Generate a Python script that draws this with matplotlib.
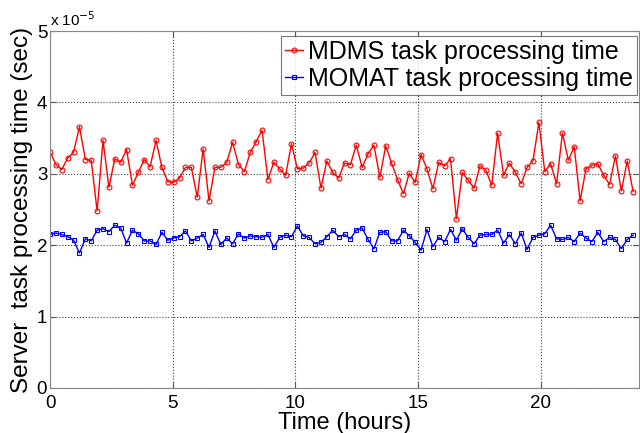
import numpy as np
import matplotlib
matplotlib.use("Agg")
import matplotlib.pyplot as plt

plt.rcParams['font.family'] = ['Liberation Sans', 'DejaVu Sans']

# sample times (hours), 0.24 h apart
time_hours = np.arange(100) * 0.24

# values in units of 1e-5 sec
mdms = [3.31, 3.13, 3.06, 3.22, 3.30, 3.66, 3.20, 3.19, 2.48, 3.47, 2.81, 3.21,
        3.16, 3.34, 2.84, 3.02, 3.20, 3.10, 3.47, 3.09, 2.89, 2.88, 2.94, 3.09,
        3.09, 2.67, 3.35, 2.62, 3.09, 3.09, 3.16, 3.44, 3.13, 3.03, 3.30, 3.45,
        3.61, 2.92, 3.16, 3.07, 2.98, 3.42, 3.07, 3.08, 3.15, 3.30, 2.80, 3.18,
        3.02, 2.94, 3.15, 3.13, 3.40, 3.09, 3.28, 3.40, 2.95, 3.39, 3.15, 2.92,
        2.72, 3.01, 2.88, 3.27, 3.07, 2.79, 3.16, 3.11, 3.21, 2.37, 3.02, 2.91,
        2.80, 3.11, 3.05, 2.84, 3.57, 2.98, 3.15, 3.02, 2.86, 3.09, 3.18, 3.72,
        3.03, 3.14, 2.86, 3.57, 3.19, 3.38, 2.62, 3.07, 3.12, 3.14, 2.98, 2.85,
        3.25, 2.76, 3.18, 2.75]

momat = [2.15, 2.17, 2.15, 2.12, 2.07, 1.89, 2.09, 2.06, 2.21, 2.23, 2.19, 2.28,
         2.24, 2.03, 2.21, 2.16, 2.06, 2.06, 2.01, 2.18, 2.07, 2.10, 2.12, 2.20,
         2.06, 2.10, 2.15, 1.97, 2.20, 2.01, 2.10, 2.02, 2.16, 2.10, 2.13, 2.12,
         2.11, 2.15, 1.97, 2.11, 2.14, 2.12, 2.27, 2.13, 2.11, 2.02, 2.04, 2.12,
         2.21, 2.12, 2.15, 2.09, 2.21, 2.24, 2.08, 1.95, 2.18, 2.19, 2.06, 2.06,
         2.21, 2.13, 2.04, 1.93, 2.22, 1.98, 2.11, 2.05, 2.22, 2.07, 2.23, 2.11,
         2.02, 2.14, 2.15, 2.15, 2.21, 2.03, 2.15, 2.02, 2.17, 1.94, 2.11, 2.14,
         2.16, 2.28, 2.09, 2.08, 2.11, 2.05, 2.17, 2.10, 2.05, 2.18, 2.05, 2.11,
         2.08, 1.95, 2.08, 2.14]

fig = plt.figure(figsize=(6.4, 4.33), dpi=100)
ax = fig.add_axes([50 / 640, 1 - 388 / 433, 589 / 640, 357 / 433])

ax.plot(time_hours, mdms, color='#ff0000', lw=1, marker='o', ms=3.5,
        mfc='none', mew=0.8, label='MDMS task processing time')
ax.plot(time_hours, momat, color='#0000ff', lw=1, marker='s', ms=3.5,
        mfc='none', mew=0.8, label='MOMAT task processing time')

ax.set_xlim(0, 24)
ax.set_ylim(0, 5)
ax.set_xticks([0, 5, 10, 15, 20])
ax.set_yticks([0, 1, 2, 3, 4, 5])
ax.tick_params(direction='in', top=True, right=True, labelsize=13.5, length=4,
               color='#555555')
ax.tick_params(axis='y', pad=2)
ax.tick_params(axis='x', pad=5)
ax.grid(True, linestyle=':', color='#444444', linewidth=0.8)
for s in ax.spines.values():
    s.set_color('#888888')

ax.set_xlabel('Time (hours)', fontsize=17, labelpad=0)
ax.set_ylabel('Server  task processing time (sec)', fontsize=17.5, labelpad=3)
ax.text(0.0, 1.005, 'x 10$^{-5}$', transform=ax.transAxes, fontsize=11,
        ha='left', va='bottom')

leg = ax.legend(loc='upper right', bbox_to_anchor=(1 - 2 / 589, 1 - 5 / 357),
                fontsize=18, frameon=True, fancybox=False,
                borderpad=0.15, labelspacing=0.12, handlelength=0.75,
                handletextpad=0.2, borderaxespad=0)
leg.get_frame().set_edgecolor('#555555')
leg.get_frame().set_linewidth(0.8)

fig.savefig('out.png', dpi=100)
